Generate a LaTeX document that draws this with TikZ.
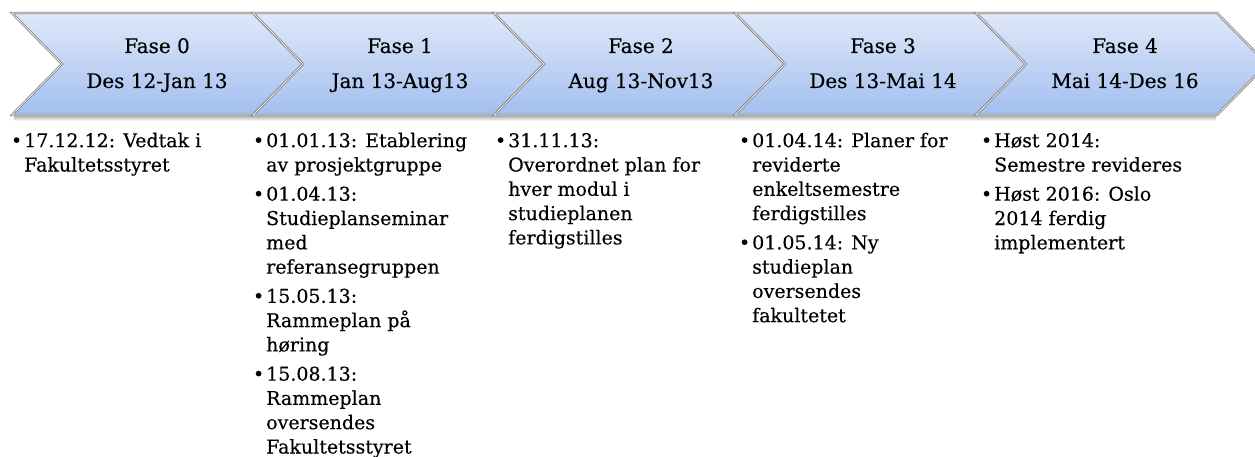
\documentclass[tikz,border=0pt]{standalone}
\usepackage{fontspec}
\setmainfont{DejaVu Serif}[FakeBold=0.3]
\usetikzlibrary{positioning}

\definecolor{fasetop}{RGB}{224,232,249}
\definecolor{fasebot}{RGB}{162,191,240}
\definecolor{faseline}{RGB}{135,135,135}
\newcommand{\bul}{\strut\llap{\textbullet\hspace{2pt}}}

\begin{document}
\begin{tikzpicture}[x=1pt, y=-1pt,
	fase/.style={draw=faseline, line width=0.9pt, double=white, double distance=0.6pt,
		top color=fasetop, bottom color=fasebot},
	tittel/.style={font=\fontsize{20}{24}\selectfont, inner sep=0pt, anchor=base},
	punkt/.style={font=\fontsize{19}{24.3}\selectfont, inner sep=0pt, align=left, anchor=north west},
	node distance=4.5pt]
	\useasboundingbox (0,0) rectangle (1255,457);

	% skygge under pilene
	\shade [top color=black!35, bottom color=white] (14,115) rectangle (1216,121);

	% fasepilene
	\draw [fase] (12,13) -- ++(241,0) -- ++(50,51) -- ++(-50,51) -- ++(-241,0) -- ++(50,-51) -- cycle;
	\draw [fase] (253,13) -- ++(241,0) -- ++(50,51) -- ++(-50,51) -- ++(-241,0) -- ++(50,-51) -- cycle;
	\draw [fase] (494,13) -- ++(241,0) -- ++(50,51) -- ++(-50,51) -- ++(-241,0) -- ++(50,-51) -- cycle;
	\draw [fase] (735,13) -- ++(241,0) -- ++(50,51) -- ++(-50,51) -- ++(-241,0) -- ++(50,-51) -- cycle;
	\draw [fase] (976,13) -- ++(241,0) -- ++(50,51) -- ++(-50,51) -- ++(-241,0) -- ++(50,-51) -- cycle;

	\node [tittel] (fase0) at (157,53) {Fase 0};
	\node [tittel] (dato0) at (157,88) {Des 12-Jan 13};
	\node [tittel] (fase1) at (400,53) {Fase 1};
	\node [tittel] (dato1) at (400,88) {Jan 13-Aug13};
	\node [tittel] (fase2) at (641,53) {Fase 2};
	\node [tittel] (dato2) at (641,88) {Aug 13-Nov13};
	\node [tittel] (fase3) at (883,53) {Fase 3};
	\node [tittel] (dato3) at (883,88) {Des 13-Mai 14};
	\node [tittel] (fase4) at (1125,53) {Fase 4};
	\node [tittel] (dato4) at (1125,88) {Mai 14-Des 16};

	% milepeler
	\node [punkt] (p0a) at (24,130) {\bul 17.12.12: Vedtak i\\Fakultetsstyret\strut};

	\node [punkt] (p1a) at (266,130) {\bul 01.01.13: Etablering\\av prosjektgruppe\strut};
	\node [punkt, below=of p1a.south west, anchor=north west] (p1b) {\bul 01.04.13:\\Studieplanseminar\\med\\referansegruppen\strut};
	\node [punkt, below=of p1b.south west, anchor=north west] (p1c) {\bul 15.05.13:\\Rammeplan på\\høring\strut};
	\node [punkt, below=of p1c.south west, anchor=north west] (p1d) {\bul 15.08.13:\\Rammeplan\\oversendes\\Fakultetsstyret\strut};

	\node [punkt] (p2a) at (508,130) {\bul 31.11.13:\\Overordnet plan for\\hver modul i\\studieplanen\\ferdigstilles\strut};

	\node [punkt] (p3a) at (752,130) {\bul 01.04.14: Planer for\\reviderte\\enkeltsemestre\\ferdigstilles\strut};
	\node [punkt, below=of p3a.south west, anchor=north west] (p3b) {\bul 01.05.14: Ny\\studieplan\\oversendes\\fakultetet\strut};

	\node [punkt] (p4a) at (994,130) {\bul Høst 2014:\\Semestre revideres\strut};
	\node [punkt, below=of p4a.south west, anchor=north west] (p4b) {\bul Høst 2016: Oslo\\2014 ferdig\\implementert\strut};

\end{tikzpicture}
\end{document}
